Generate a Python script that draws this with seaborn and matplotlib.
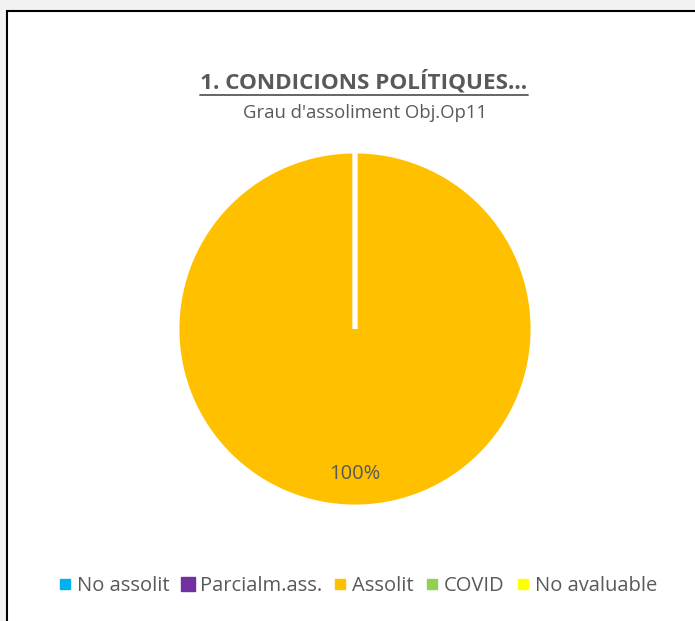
import matplotlib
matplotlib.use("Agg")
import matplotlib.pyplot as plt
import seaborn as sns
from matplotlib.lines import Line2D
from matplotlib.patches import Rectangle

# data
categories = ["No assolit", "Parcialm.ass.", "Assolit", "COVID", "No avaluable"]
values = [0, 0, 1, 0, 0]
colors = ["#00B0F0", "#7030A0", "#FFC000", "#92D050", "#FFFF00"]
title = "1. CONDICIONS POLÍTIQUES..."
subtitle = "Grau d'assoliment Obj.Op11"

sns.set_theme(style="white")
plt.rcParams['font.family'] = ['Open Sans', 'DejaVu Sans']
text_col = "#595959"

W, H = 695, 621
fig = plt.figure(figsize=(W / 100, H / 100), dpi=100, facecolor="#F2F2F2")

# chart area with border (extends past right and bottom edge)
fig.patches.append(Rectangle((6.5 / W, -0.02), 1.0, (H - 10.5) / H + 0.02,
                             transform=fig.transFigure, facecolor="white",
                             edgecolor="black", linewidth=1.5, zorder=-5))

# pie
cx, cy, r = 355, 329, 178
ax = fig.add_axes([(cx - r) / W, (H - cy - r) / H, 2 * r / W, 2 * r / H])
ax.set_facecolor("none")
wedges, texts, autotexts = ax.pie(
    values, colors=colors, startangle=90, counterclock=False, radius=1,
    autopct=lambda p: f"{p:.0f}%" if p > 0 else "", pctdistance=0.815,
    wedgeprops=dict(edgecolor="white", linewidth=3.5),
    textprops=dict(color=text_col, fontsize=14.5))
ax.set_xlim(-1, 1)
ax.set_ylim(-1, 1)
ax.set_aspect("equal")
ax.axis("off")

# titles
t = fig.text(364 / W, 1 - 82 / H, title, ha="center", va="center",
             fontsize=16.2, fontweight="bold", color=text_col)
fig.text(365 / W, 1 - 113 / H, subtitle, ha="center", va="center",
         fontsize=13.3, color=text_col)

# legend
sizes = [7, 10, 7, 7, 7]
handles = [Line2D([], [], marker="s", linestyle="", color=c, markersize=s)
           for c, s in zip(colors, sizes)]
fig.legend(handles, categories, loc="center", bbox_to_anchor=(358 / W, 1 - 586 / H),
           ncol=5, frameon=False, handlelength=0.6, handletextpad=0.3,
           columnspacing=0.6, fontsize=14.5, labelcolor=text_col)

# underline the title
fig.canvas.draw()
bb = t.get_window_extent()
y_ul = (bb.y0 - 1) / H
fig.add_artist(Line2D([bb.x0 / W, bb.x1 / W], [y_ul, y_ul], transform=fig.transFigure,
                      color=text_col, linewidth=1.3))

fig.savefig("out.png", dpi=100, facecolor=fig.get_facecolor())
